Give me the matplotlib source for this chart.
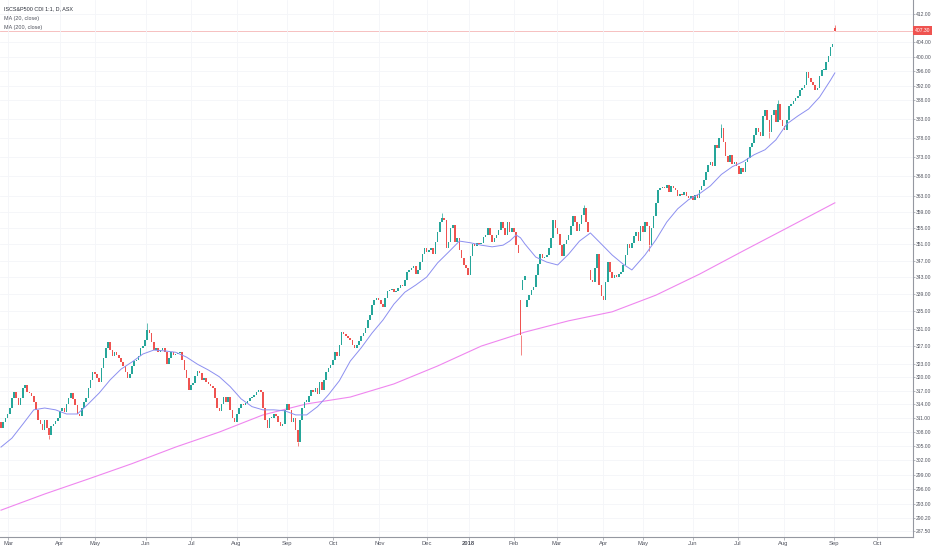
import numpy as np
import matplotlib
matplotlib.use("Agg")
from matplotlib import pyplot as plt
from matplotlib import ticker
from matplotlib import transforms

# daily closes, one per ASX trading day (late Feb 2017 -> early Sep 2018)
closes = [
    308.8, 310.2, 311.0, 311.9, 313.2, 315.4, 316.8, 315.4, 313.9, 315.4,
    317.6, 318.3, 316.8, 316.5, 315.9, 314.6, 312.8, 310.6, 309.7, 308.4,
    310.6, 308.8, 307.3, 309.3, 309.7, 310.4, 311.0, 312.6, 313.2, 312.4,
    314.1, 315.4, 316.5, 315.2, 313.9, 311.9, 311.5, 313.2, 314.6, 315.4,
    317.6, 319.4, 321.2, 320.7, 319.8, 319.0, 322.1, 324.3, 326.6, 327.9,
    326.1, 324.7, 325.6, 325.0, 324.3, 323.4, 322.5, 321.2, 319.8, 320.7,
    322.5, 323.6, 323.8, 324.7, 326.6, 327.0, 328.4, 330.7, 330.0, 327.9,
    326.1, 326.6, 325.6, 326.1, 326.6, 325.6, 322.9, 324.3, 325.6, 325.0,
    325.2, 325.4, 325.6, 323.8, 321.6, 319.8, 317.2, 318.3, 318.7, 320.3,
    321.4, 320.9, 319.4, 319.8, 319.0, 318.5, 318.1, 317.6, 315.4, 313.2,
    312.6, 314.1, 315.7, 314.6, 315.7, 312.8, 311.0, 310.2, 311.9, 313.2,
    314.1, 313.9, 314.3, 314.8, 315.4, 315.7, 316.1, 316.8, 317.2, 316.8,
    313.2, 310.6, 308.8, 311.0, 311.0, 311.9, 311.5, 310.2, 309.3, 309.7,
    312.8, 314.1, 312.8, 310.2, 311.0, 308.4, 305.9, 310.6, 313.2, 314.6,
    314.6, 315.9, 317.2, 316.8, 317.6, 316.3, 319.0, 317.2, 319.4, 321.2,
    322.1, 322.7, 323.8, 325.6, 324.7, 327.3, 330.2, 329.8, 329.3, 328.9,
    328.4, 327.3, 326.6, 327.3, 328.2, 329.3, 330.0, 331.2, 333.0, 334.1,
    336.5, 337.7, 338.2, 337.7, 336.7, 336.0, 338.2, 339.8, 340.0, 340.2,
    339.5, 339.8, 340.5, 341.2, 341.0, 342.4, 344.3, 344.8, 345.3, 345.8,
    343.8, 344.8, 346.7, 348.6, 350.1, 349.1, 349.6, 350.1, 348.6, 351.6,
    354.0, 356.5, 357.5, 357.0, 350.1, 351.6, 355.0, 355.7, 351.6, 352.6,
    349.6, 347.7, 346.0, 345.3, 343.6, 348.2, 351.1, 350.6, 351.4, 351.1,
    351.4, 352.8, 353.3, 355.0, 353.3, 351.6, 352.6, 353.3, 354.5, 356.5,
    355.0, 353.3, 356.5, 354.0, 355.0, 354.0, 350.8, 348.9, 329.5, 342.4,
    343.3, 337.7, 338.8, 340.0, 340.7, 343.6, 346.2, 348.6, 347.7, 347.9,
    348.4, 350.1, 352.6, 357.0, 355.0, 353.5, 350.8, 348.2, 351.1, 352.1,
    353.3, 355.5, 358.0, 356.5, 354.3, 356.0, 358.2, 360.0, 356.5, 354.0,
    342.4, 341.9, 345.3, 348.6, 341.2, 338.6, 337.7, 341.9, 346.7, 344.3,
    342.9, 343.6, 343.1, 343.8, 344.3, 346.0, 348.4, 351.1, 350.1, 351.4,
    353.0, 354.0, 351.8, 355.5, 354.0, 356.5, 355.5, 350.8, 355.0, 358.0,
    361.3, 364.6, 365.1, 365.4, 365.1, 365.9, 364.1, 365.6, 365.1, 364.6,
    363.1, 363.6, 363.4, 364.1, 363.1, 362.6, 363.1, 362.1, 363.4, 362.6,
    364.6, 365.6, 367.2, 369.2, 371.0, 371.8, 370.7, 376.2, 375.4, 378.0,
    380.6, 377.0, 373.3, 371.8, 373.6, 371.2, 371.8, 370.7, 368.7, 370.2,
    369.2, 371.8, 372.8, 375.7, 376.7, 378.8, 380.6, 379.6, 378.5, 383.8,
    385.4, 382.8, 379.6, 384.1, 385.4, 382.3, 387.0, 382.8, 381.2, 380.1,
    382.8, 386.5, 387.0, 387.8, 388.6, 389.2, 390.8, 391.4, 392.2, 395.7,
    394.1, 393.0, 392.2, 390.8, 391.4, 394.6, 396.3, 396.3, 398.5, 400.2,
    402.7, 403.6, 407.3,
]

# opens that gap away from the previous close
gap_opens = {0: 310.2, 136: 308.4, 238: 337.7, 239: 340.0, 241: 336.0,
             270: 344.8, 382: 408.2}

# visible wicks
wick_highs = {67: 332.2, 202: 358.7, 267: 360.8, 330: 381.7, 356: 388.0,
              382: 408.9}
wick_lows = {22: 306.5, 136: 305.0, 238: 325.0, 352: 378.0, 297: 349.5}

# moving averages
ma20_bars = [0, 5, 10, 15, 20, 25, 30, 35, 40, 45, 50, 55, 60, 65, 70, 75, 80,
             85, 90, 95, 100, 105, 110, 115, 120, 125, 130, 135, 140, 145, 150,
             155, 160, 165, 170, 175, 180, 185, 190, 195, 200, 205, 210, 215,
             220, 225, 230, 233, 236, 238, 240, 245, 250, 255, 260, 265, 270,
             275, 280, 285, 289, 295, 300, 305, 310, 315, 320, 325, 330, 335,
             340, 345, 350, 355, 360, 365, 370, 375, 380, 382]
ma20_vals = [304.8, 306.7, 309.7, 312.8, 313.2, 312.8, 311.9, 311.9, 314.1,
             316.5, 319.4, 321.8, 323.4, 325.2, 326.1, 325.9, 325.6, 324.5,
             322.9, 321.6, 320.1, 317.9, 315.2, 313.5, 312.8, 312.8, 312.6,
             311.7, 311.7, 313.5, 316.1, 319.2, 323.6, 326.6, 330.0, 333.0,
             336.7, 339.5, 341.2, 343.1, 346.5, 349.1, 351.8, 351.4, 350.8,
             350.4, 350.8, 351.8, 353.3, 352.6, 351.1, 347.9, 346.7, 346.0,
             348.6, 351.8, 353.8, 351.1, 348.4, 346.2, 344.8, 348.4, 352.1,
             356.5, 359.8, 362.1, 363.6, 365.6, 368.5, 370.5, 371.8, 373.6,
             374.9, 377.5, 381.7, 383.8, 385.7, 388.9, 393.5, 395.5]

ma200_bars = [0, 20, 40, 60, 80, 100, 120, 140, 160, 180, 200, 220, 240, 260,
              280, 300, 320, 340, 360, 382]
ma200_vals = [291.7, 295.0, 298.1, 301.3, 304.8, 308.0, 311.7, 314.1, 315.6,
              318.5, 322.5, 327.0, 330.2, 332.8, 334.9, 338.8, 343.8, 349.4,
              355.0, 361.3]

month_pos = [3.35, 26.8, 43.1, 66.3, 87.2, 107.9, 130.8, 152.1, 173.3, 195.1,
             214.2, 235.0, 254.7, 276.0, 294.1, 317.0, 337.6, 358.5, 381.6,
             401.5]
month_labels = ["Mar", "Apr", "May", "Jun", "Jul", "Aug", "Sep", "Oct", "Nov",
                "Dec", "2018", "Feb", "Mar", "Apr", "May", "Jun", "Jul", "Aug",
                "Sep", "Oct"]

price_ticks = [412, 404, 400, 396, 392, 388, 383, 378, 373, 368, 363, 359, 355,
               351, 347, 343, 339, 335, 331, 327, 323, 320, 317, 314, 311, 308,
               305, 302, 299, 296, 293, 290.2, 287.5]
last_price = 407.30

UP = "#26a69a"
DOWN = "#ef5350"
TXT = "#50535e"

plt.rcParams["font.family"] = ["Liberation Sans Narrow", "Liberation Sans",
                               "DejaVu Sans"]

fig = plt.figure(figsize=(9.32, 5.5), dpi=100)
ax = fig.add_axes([0, 13 / 550, 913 / 932, 537 / 550])

c = np.array(closes)
o = np.r_[c[0], c[:-1]]
for k, v in gap_opens.items():
    o[k] = v
x = np.arange(len(c))
colors = np.where(c >= o, UP, DOWN)

# wicks first, bodies on top
for k, v in wick_highs.items():
    ax.vlines(k, max(o[k], c[k]), v, color=colors[k], lw=0.5, zorder=3)
for k, v in wick_lows.items():
    ax.vlines(k, v, min(o[k], c[k]), color=colors[k], lw=0.5, zorder=3)

height = np.maximum(np.abs(c - o), 0.25)
ax.bar(x, height, bottom=np.minimum(o, c), width=0.72, color=colors,
       linewidth=0, zorder=4)

ax.plot(ma20_bars, ma20_vals, color="#8c8ff0", lw=0.7, zorder=5)
ax.plot(ma200_bars, ma200_vals, color="#ef86ef", lw=0.8, zorder=2)

ax.set_yscale("log")
ax.set_ylim(286.3, 416.1)
ax.set_xlim(-0.46, 417.8)

ax.yaxis.tick_right()
ax.yaxis.set_major_locator(ticker.FixedLocator(price_ticks))
ax.yaxis.set_major_formatter(ticker.FuncFormatter(lambda v, p: "%.2f" % v))
ax.yaxis.set_minor_locator(ticker.NullLocator())
ax.set_xticks(month_pos)
ax.set_xticklabels(month_labels)
for lab in ax.get_xticklabels():
    if lab.get_text() == "2018":
        lab.set_fontweight("bold")

ax.tick_params(axis="both", length=2, width=0.5, color="#9598a1",
               labelcolor=TXT)
ax.tick_params(axis="x", labelsize=4.2, pad=1.2)
ax.tick_params(axis="y", labelsize=3.6, pad=0.8, length=1.5)
ax.grid(True, color="#f4f5f9", lw=0.6, zorder=0)

for side in ["left", "top"]:
    ax.spines[side].set_visible(False)
for side in ["right", "bottom"]:
    ax.spines[side].set_color("#9598a1")
    ax.spines[side].set_linewidth(0.8)

# last price line and tag
ax.axhline(last_price, color="#f5b5b5", lw=0.6, zorder=1)
trans = transforms.blended_transform_factory(ax.transAxes, ax.transData)
ax.text(1.002, last_price, "%.2f" % last_price, transform=trans, fontsize=3.6,
        color="white", va="center", ha="left", clip_on=False,
        bbox=dict(boxstyle="square,pad=0.4", fc=DOWN, ec="none"))

ax.text(0.004, 0.988, "ISCS&P500 CDI 1:1, D, ASX", transform=ax.transAxes,
        fontsize=3.9, color="#2a2e39", va="top")
ax.text(0.004, 0.971, "MA (20, close)", transform=ax.transAxes,
        fontsize=3.9, color=TXT, va="top")
ax.text(0.004, 0.954, "MA (200, close)", transform=ax.transAxes,
        fontsize=3.9, color=TXT, va="top")

fig.savefig("out.png", dpi=100)
